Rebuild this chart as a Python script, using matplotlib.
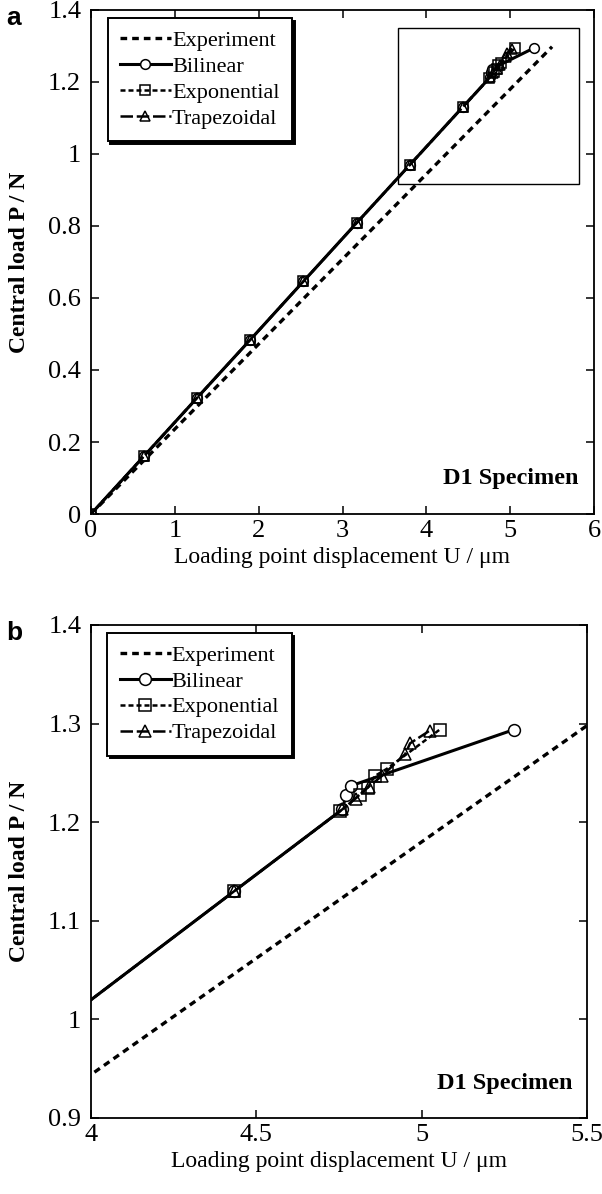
import matplotlib

matplotlib.use("Agg")
import matplotlib.pyplot as plt
from matplotlib.patches import Rectangle

# loading point displacement U (µm) vs central load P (N), D1 specimen
exp_u = [0.0, 5.5]
exp_p = [0.0, 1.298]

bil_u = [0.0, 0.633, 1.267, 1.9, 2.533, 3.167, 3.8, 4.433, 4.76, 4.772, 4.787, 5.28]
bil_p = [0.0, 0.161, 0.323, 0.484, 0.646, 0.808, 0.969, 1.130, 1.213, 1.228, 1.237, 1.294]

expo_u = [0.0, 0.633, 1.267, 1.9, 2.533, 3.167, 3.8, 4.433, 4.753, 4.813, 4.837, 4.859, 4.894, 5.055]
expo_p = [0.0, 0.161, 0.323, 0.484, 0.646, 0.808, 0.969, 1.130, 1.211, 1.228, 1.235, 1.247, 1.254, 1.294]

trap_u = [0.0, 0.633, 1.267, 1.9, 2.533, 3.167, 3.8, 4.433, 4.76, 4.80, 4.84, 4.88, 4.95, 4.965, 5.025]
trap_p = [0.0, 0.161, 0.323, 0.484, 0.646, 0.808, 0.969, 1.130, 1.213, 1.224, 1.236, 1.247, 1.269, 1.280, 1.293]

xticks_a = [0, 1, 2, 3, 4, 5, 6]
yticks_a = [0, 0.2, 0.4, 0.6, 0.8, 1.0, 1.2, 1.4]
xticks_b = [4, 4.5, 5, 5.5]
yticks_b = [0.9, 1.0, 1.1, 1.2, 1.3, 1.4]
zoom_box = (3.66, 0.917, 5.82, 1.35)  # x0, y0, x1, y1 of the inset frame in panel a

SERIF = "Liberation Serif"
W, H = 602, 1194


def fmt(v):
    return f"{v:g}"


def panel(ax, xlim, ylim, xticks, yticks, ms):
    ax.plot(exp_u, exp_p, color="black", lw=2.4, dashes=(2.0, 1.5), label="Experiment")
    ax.plot(bil_u, bil_p, color="black", lw=2.2, marker="o", ms=ms, mfc="white", mec="black",
            mew=1.1, label="Bilinear")
    ax.plot(expo_u, expo_p, color="black", lw=1.8, dashes=(2.0, 1.2), marker="s", ms=ms, mfc="none",
            mec="black", mew=1.1, label="Exponential")
    ax.plot(trap_u, trap_p, color="black", lw=1.8, dashes=(5.0, 1.5), marker="^", ms=ms, mfc="none",
            mec="black", mew=1.1, label="Trapezoidal")
    ax.set_xlim(*xlim)
    ax.set_ylim(*ylim)
    ax.set_xticks(xticks)
    ax.set_yticks(yticks)
    ax.set_xticklabels([fmt(v) for v in xticks], fontfamily=SERIF, fontsize=19)
    ax.set_yticklabels([fmt(v) for v in yticks], fontfamily=SERIF, fontsize=19)
    ax.tick_params(direction="in", length=6, width=1.1, top=True, right=True, pad=7)
    ax.tick_params(axis="x", pad=4)
    for s in ax.spines.values():
        s.set_linewidth(1.3)
    ax.set_xlabel("Loading point displacement U / μm", fontfamily=SERIF, fontsize=17, labelpad=4)
    ax.text(0.97, 0.07, "D1 Specimen", transform=ax.transAxes, ha="right", va="center",
            fontfamily=SERIF, fontsize=17.5, fontweight="bold")
    leg = ax.legend(loc="upper left", bbox_to_anchor=(0.033, 0.984), borderaxespad=0,
                    prop={"family": SERIF, "size": 16}, frameon=True, fancybox=False,
                    shadow={"color": "black", "alpha": 1}, handlelength=2.3, handletextpad=0.05,
                    labelspacing=0.24, borderpad=0.55)
    leg.get_frame().set_edgecolor("black")
    leg.get_frame().set_linewidth(1.4)


fig = plt.figure(figsize=(W / 100, H / 100), dpi=100)

ax_a = fig.add_axes([91 / W, 1 - 514 / H, (594 - 91) / W, (514 - 10) / H])
panel(ax_a, (0, 6), (0, 1.4), xticks_a, yticks_a, ms=7)
x0, y0, x1, y1 = zoom_box
ax_a.add_patch(Rectangle((x0, y0), x1 - x0, y1 - y0, fill=False, ec="black", lw=1.0, zorder=1))

ax_b = fig.add_axes([91 / W, 1 - 1118 / H, (587 - 91) / W, (1118 - 625) / H])
panel(ax_b, (4, 5.5), (0.9, 1.4), xticks_b, yticks_b, ms=8.5)

for ax in (ax_a, ax_b):
    pos = ax.get_position()
    fig.text(20 / W, pos.y0 + pos.height / 2, "Central load P / N", rotation=90, ha="center",
             va="center", fontfamily=SERIF, fontsize=17, fontweight="bold")
    fig.text(6 / W, pos.y1 - 8 / H, "a" if ax is ax_a else "b", ha="left", va="center",
             fontfamily="Liberation Sans", fontsize=19, fontweight="bold")

fig.savefig("out.png", dpi=100)
